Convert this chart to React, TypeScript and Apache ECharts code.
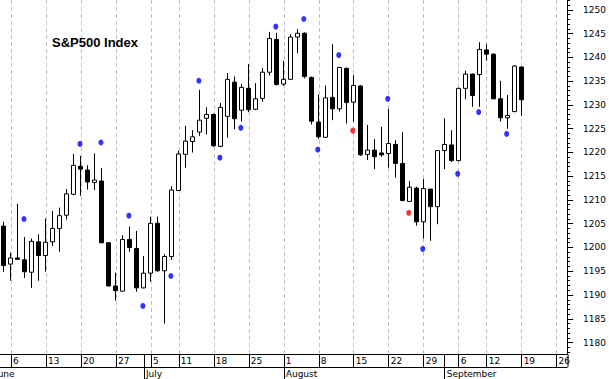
import React, { useEffect, useRef } from "react";
import * as echarts from "echarts";

// Trading days (2005), including a few empty slots to the right of the last bar
const dates = [
  "06-03",
  "06-06", "06-07", "06-08", "06-09", "06-10",
  "06-13", "06-14", "06-15", "06-16", "06-17",
  "06-20", "06-21", "06-22", "06-23", "06-24",
  "06-27", "06-28", "06-29", "06-30", "07-01",
  "07-05", "07-06", "07-07", "07-08",
  "07-11", "07-12", "07-13", "07-14", "07-15",
  "07-18", "07-19", "07-20", "07-21", "07-22",
  "07-25", "07-26", "07-27", "07-28", "07-29",
  "08-01", "08-02", "08-03", "08-04", "08-05",
  "08-08", "08-09", "08-10", "08-11", "08-12",
  "08-15", "08-16", "08-17", "08-18", "08-19",
  "08-22", "08-23", "08-24", "08-25", "08-26",
  "08-29", "08-30", "08-31", "09-01", "09-02",
  "09-06", "09-07", "09-08", "09-09",
  "09-12", "09-13", "09-14", "09-15", "09-16",
  "09-19", "09-20", "09-21", "09-22", "09-23",
  "09-26", "09-27",
];

const opens = [
  1204.5, 1196.5, 1197.8, 1197.4, 1194.8, 1201.2, 1198.3, 1201.2, 1204.0, 1206.8,
  1211.2, 1217.1, 1216.3, 1213.7, 1214.0, 1201.0, 1191.9, 1190.8, 1201.7, 1199.8,
  1191.5, 1194.6, 1205.1, 1195.1, 1198.1, 1212.0, 1219.6, 1222.3, 1224.3, 1227.2,
  1228.0, 1221.3, 1227.6, 1234.8, 1228.9, 1233.5, 1229.1, 1231.4, 1236.9, 1243.8,
  1234.4, 1235.4, 1244.3, 1245.1, 1235.8, 1226.4, 1223.2, 1231.6, 1229.2, 1237.7,
  1230.6, 1234.0, 1219.6, 1220.5, 1219.9, 1219.8, 1221.7, 1217.7, 1209.7, 1212.5,
  1205.4, 1212.3, 1208.6, 1220.4, 1221.6, 1218.3, 1233.5, 1236.5, 1236.4, 1241.6,
  1240.7, 1231.3, 1227.3, 1228.6, 1238.0,
];
const highs = [
  1205.4, 1198.9, 1209.2, 1202.2, 1201.9, 1202.8, 1206.1, 1207.7, 1208.4, 1212.3,
  1219.7, 1219.3, 1217.3, 1219.8, 1216.7, 1201.1, 1194.7, 1202.6, 1204.4, 1203.5,
  1198.2, 1206.5, 1206.5, 1198.6, 1212.9, 1220.4, 1225.6, 1224.7, 1233.2, 1229.5,
  1228.2, 1230.4, 1236.7, 1236.0, 1234.4, 1238.6, 1234.6, 1237.8, 1245.4, 1245.2,
  1239.3, 1244.9, 1246.0, 1245.3, 1236.0, 1232.2, 1234.1, 1242.8, 1238.0, 1237.9,
  1236.3, 1234.2, 1225.8, 1222.8, 1225.4, 1229.2, 1222.6, 1224.3, 1214.0, 1212.8,
  1214.4, 1212.3, 1220.5, 1227.2, 1224.7, 1233.6, 1237.2, 1236.6, 1243.2, 1242.8,
  1240.8, 1235.1, 1232.1, 1238.3, 1238.1,
];
const lows = [
  1194.9, 1193.0, 1197.4, 1193.6, 1191.5, 1193.0, 1194.9, 1200.3, 1199.1, 1205.9,
  1211.0, 1210.9, 1212.2, 1212.1, 1200.9, 1191.8, 1188.8, 1190.8, 1199.1, 1190.7,
  1191.4, 1192.8, 1194.9, 1184.0, 1197.4, 1211.9, 1216.8, 1220.0, 1223.5, 1223.8,
  1221.2, 1221.1, 1223.1, 1224.9, 1226.5, 1228.5, 1228.9, 1230.7, 1236.2, 1234.1,
  1234.0, 1235.3, 1240.9, 1235.6, 1225.9, 1222.9, 1223.1, 1226.8, 1228.6, 1226.1,
  1226.5, 1219.3, 1218.4, 1216.5, 1219.1, 1216.8, 1214.7, 1209.7, 1209.6, 1204.6,
  1201.9, 1201.4, 1204.9, 1216.5, 1218.0, 1218.1, 1231.2, 1229.6, 1229.6, 1239.3,
  1231.2, 1226.5, 1225.0, 1228.5, 1227.7,
];
const closes = [
  1196.2, 1197.8, 1197.5, 1194.9, 1201.3, 1198.3, 1201.1, 1204.0, 1206.7, 1211.3,
  1217.3, 1216.5, 1213.8, 1214.2, 1201.0, 1191.9, 1190.9, 1201.7, 1200.0, 1191.5,
  1194.6, 1205.1, 1195.1, 1198.1, 1212.1, 1219.7, 1222.4, 1223.3, 1226.8, 1228.0,
  1221.4, 1229.5, 1235.4, 1227.1, 1233.7, 1229.0, 1231.3, 1236.9, 1244.0, 1234.3,
  1235.4, 1244.3, 1245.1, 1236.0, 1226.6, 1223.3, 1231.5, 1229.2, 1237.9, 1230.5,
  1234.1, 1219.5, 1220.5, 1219.1, 1219.5, 1221.9, 1217.7, 1209.9, 1212.7, 1205.4,
  1212.4, 1208.6, 1220.4, 1221.7, 1218.3, 1233.5, 1236.5, 1232.0, 1241.7, 1240.7,
  1231.3, 1227.3, 1227.8, 1238.2, 1231.1,
];

// Signal dots
const blueDotDates = [
  "06-08", "06-20", "06-23", "06-29", "07-01", "07-08", "07-14", "07-19", "07-22", "07-29",
  "08-04", "08-08", "08-11", "08-22", "08-29", "09-06", "09-09", "09-15",
];
const blueDotValues = [
  1206.0, 1221.8, 1222.1, 1206.7, 1187.7, 1194.0, 1235.1, 1218.9, 1225.2, 1246.5,
  1248.1, 1220.6, 1240.5, 1231.3, 1199.7, 1215.5, 1228.5, 1223.9,
];
const redDotDates = ["08-15", "08-25"];
const redDotValues = [1224.6, 1207.3];

// Axis labels
const weekStarts = [
  "06-06", "06-13", "06-20", "06-27", "07-05", "07-11", "07-18", "07-25",
  "08-01", "08-08", "08-15", "08-22", "08-29", "09-06", "09-12", "09-19", "09-26",
];
const monthStarts = ["07-01", "08-01", "09-01"];
const monthNames = ["July", "August", "September"];
const firstMonthName = "June";
const yTicks = [1180, 1185, 1190, 1195, 1200, 1205, 1210, 1215, 1220, 1225, 1230, 1235, 1240, 1245, 1250];
const title = "S&P500 Index";

const Y_MIN = 1177.58;
const Y_MAX = 1252.1;
const FONT = "DejaVu Sans";

function buildOption() {
  const weekSet = new Set(weekStarts);
  const monthMap = new Map(monthStarts.map((d, i) => [d, monthNames[i]]));
  const minorTicks: number[] = [];
  for (let v = 1178; v <= 1252; v++) minorTicks.push(v);

  const candleData = opens.map((o, i) => [o, closes[i], lows[i], highs[i]]);
  const blueData = blueDotDates.map((d, i) => [d, blueDotValues[i]]);
  const redData = redDotDates.map((d, i) => [d, redDotValues[i]]);

  return {
    animation: false,
    backgroundColor: "#ffffff",
    title: {
      text: title,
      left: 52,
      top: 36,
      padding: 0,
      textStyle: { fontFamily: "Liberation Sans, Arial", fontWeight: "bold", fontSize: 13, color: "#000" },
    },
    grid: { left: 0.5, right: 41, top: 0, bottom: 25, containLabel: false },
    xAxis: [
      {
        type: "category",
        data: dates,
        position: "bottom",
        boundaryGap: true,
        axisLine: { show: true, onZero: false, lineStyle: { color: "#000", width: 1 } },
        axisTick: {
          show: true,
          alignWithLabel: true,
          length: 13,
          interval: (_i: number, v: string) => weekSet.has(v),
          lineStyle: { color: "#000", width: 1 },
        },
        axisLabel: {
          interval: (_i: number, v: string) => weekSet.has(v),
          formatter: (v: string) => String(parseInt(v.slice(3), 10)),
          align: "left",
          padding: [0, 0, 0, 2],
          margin: 2,
          fontFamily: FONT,
          fontSize: 9,
          color: "#000",
        },
        splitLine: { show: false },
      },
      {
        type: "category",
        data: dates,
        position: "bottom",
        boundaryGap: true,
        axisLine: { show: false, onZero: false },
        axisTick: {
          show: true,
          alignWithLabel: true,
          length: 25,
          interval: (_i: number, v: string) => monthMap.has(v),
          lineStyle: { color: "#000", width: 1 },
        },
        axisLabel: {
          interval: (_i: number, v: string) => monthMap.has(v),
          formatter: (v: string) => monthMap.get(v) || "",
          align: "left",
          padding: [0, 0, 0, 2],
          margin: 15,
          fontFamily: FONT,
          fontSize: 9,
          color: "#000",
        },
        splitLine: { show: false },
      },
      {
        type: "category",
        data: dates,
        position: "bottom",
        offset: 13,
        axisLine: { show: true, onZero: false, lineStyle: { color: "#000", width: 1 } },
        axisTick: { show: false },
        axisLabel: { show: false },
        splitLine: { show: false },
      },
    ],
    yAxis: [
      {
        type: "value",
        position: "right",
        min: Y_MIN,
        max: Y_MAX,
        splitLine: { show: false },
        axisLine: { show: true, onZero: false, lineStyle: { color: "#000", width: 1 } },
        axisTick: { show: true, length: 6, customValues: yTicks, lineStyle: { color: "#000", width: 1 } },
        axisLabel: {
          customValues: yTicks,
          formatter: (v: number) => String(v),
          margin: 16,
          fontFamily: FONT,
          fontSize: 9,
          color: "#000",
        },
      },
      {
        type: "value",
        position: "right",
        min: Y_MIN,
        max: Y_MAX,
        splitLine: { show: false },
        axisLine: { show: false },
        axisTick: { show: true, length: 3, customValues: minorTicks, lineStyle: { color: "#000", width: 1 } },
        axisLabel: { show: false },
      },
    ],
    series: [
      {
        type: "candlestick",
        xAxisIndex: 0,
        yAxisIndex: 0,
        data: candleData,
        barWidth: 4.5,
        z: 2,
        itemStyle: {
          color: "#ffffff",
          color0: "#000000",
          borderColor: "#000000",
          borderColor0: "#000000",
          borderColorDoji: "#000000",
          borderWidth: 1,
        },
        markLine: {
          silent: true,
          z: 1,
          symbol: ["none", "none"],
          label: { show: false },
          emphasis: { disabled: true },
          lineStyle: { color: "#c0c0c0", type: [4, 3], width: 1 },
          data: weekStarts.map((d) => ({ xAxis: d })),
        },
      },
      {
        type: "scatter",
        xAxisIndex: 0,
        yAxisIndex: 0,
        data: blueData,
        symbol: "circle",
        symbolSize: [5, 6],
        symbolOffset: [-1, 0],
        z: 3,
        itemStyle: { color: "#0000ff" },
      },
      {
        type: "scatter",
        xAxisIndex: 0,
        yAxisIndex: 0,
        data: redData,
        symbol: "circle",
        symbolSize: [5, 6],
        symbolOffset: [-1, 0],
        z: 3,
        itemStyle: { color: "#ff0000" },
      },
    ],
    graphic: [
      {
        type: "text",
        x: -5,
        y: 374,
        style: { text: firstMonthName, font: `9px "${FONT}"`, fill: "#000", verticalAlign: "middle", align: "left" },
      },
      {
        type: "line",
        shape: { x1: 568, y1: 354, x2: 568, y2: 367 },
        style: { stroke: "#000", lineWidth: 1 },
      },
    ],
  };
}

export default function App() {
  const ref = useRef<HTMLDivElement>(null);
  useEffect(() => {
    if (!ref.current) return;
    const chart = echarts.init(ref.current, null, { renderer: "svg" });
    chart.setOption(buildOption() as any);
    return () => chart.dispose();
  }, []);
  return (
    <div
      ref={ref}
      style={{ position: "fixed", left: 0, top: 0, width: 609, height: 379, background: "#fff" }}
    />
  );
}
